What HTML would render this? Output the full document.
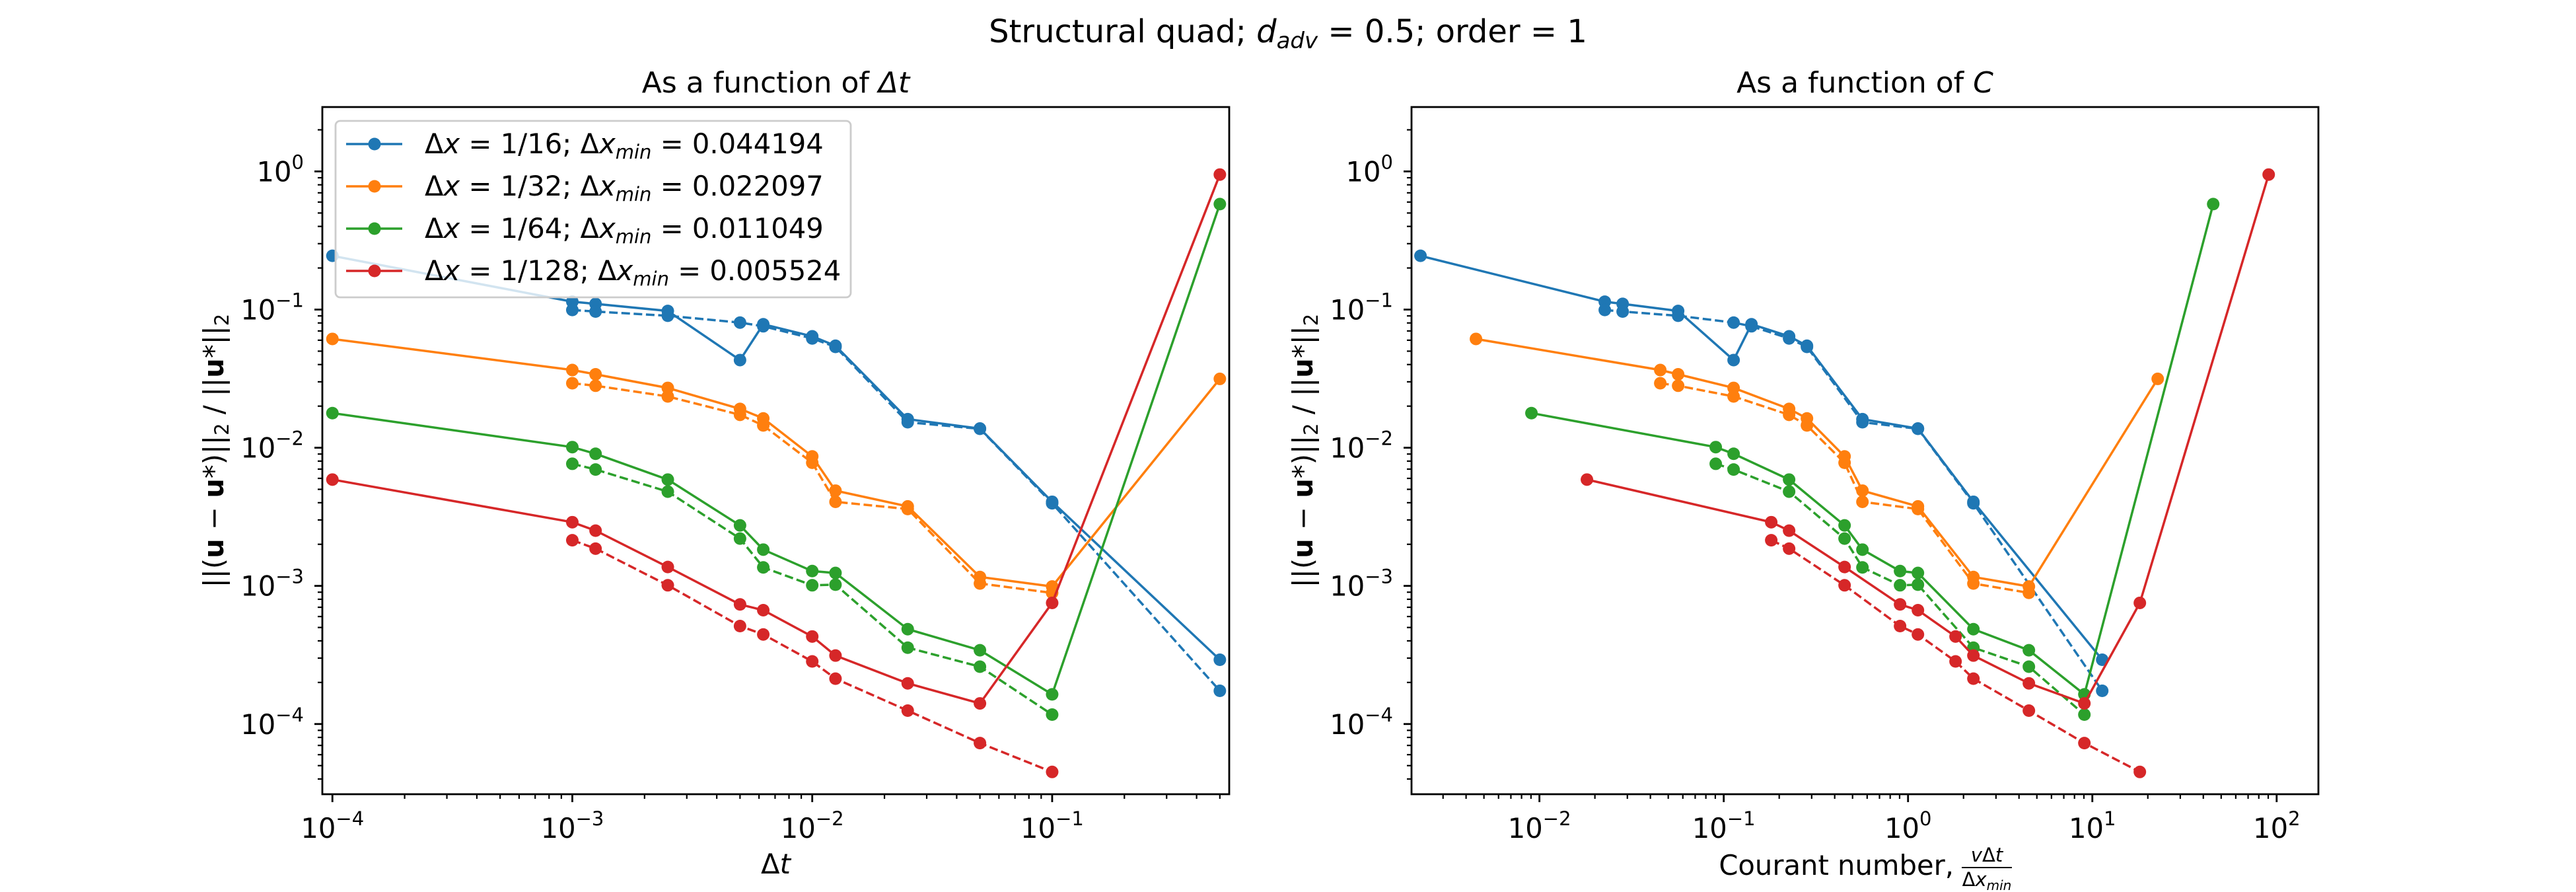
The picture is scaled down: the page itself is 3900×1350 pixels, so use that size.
<!DOCTYPE html>
<html><head><meta charset="utf-8">
<style>
html,body{margin:0;padding:0;background:#fff;}
svg{display:block;font-family:"DejaVu Sans","Liberation Sans",sans-serif;}
</style></head>
<body>
<svg id="fig" width="3900" height="1350" viewBox="0 0 3900 1350" xmlns="http://www.w3.org/2000/svg">
<rect x="0" y="0" width="3900" height="1350" fill="#fff"/>
<text x="1950" y="64" font-size="48" text-anchor="middle">Structural quad; <tspan font-style="italic">d</tspan><tspan font-style="italic" font-size="34" dy="9">adv</tspan><tspan dy="-9"> = 0.5; order = 1</tspan></text>
<g id="axL"></g>
<g id="axR"></g>
</svg>
<script>
const dt = [1e-4, 1e-3, 1.25e-3, 2.5e-3, 5e-3, 6.25e-3, 1e-2, 1.25e-2, 2.5e-2, 5e-2, 1e-1, 0.5];
const dxmin = [0.044194, 0.022097, 0.011049, 0.005524];
const dxLabels = ['1/16', '1/32', '1/64', '1/128'];
const dxminLabels = ['0.044194', '0.022097', '0.011049', '0.005524'];
const velocity = 1;
const solidBlue   = [0.245, 0.114, 0.110, 0.0977, 0.0431, 0.0783, 0.064, 0.0547, 0.0161, 0.01377, 0.00406, 0.000292];
const dashedBlue  = [null, 0.0993, 0.0968, 0.0902, 0.0805, 0.0757, 0.0618, 0.0537, 0.0153, 0.0137, 0.00396, 0.000174];
const solidOrange = [0.0613, 0.0365, 0.034, 0.0271, 0.0191, 0.0163, 0.00865, 0.00489, 0.00376, 0.00116, 0.00099, 0.0315];
const dashedOrange= [null, 0.0293, 0.0281, 0.0235, 0.0173, 0.0145, 0.00778, 0.00406, 0.0036, 0.00104, 0.00089, null];
const solidGreen  = [0.0178, 0.0101, 0.00904, 0.00588, 0.00274, 0.00183, 0.00128, 0.00124, 0.000486, 0.000342, 0.000164, 0.58];
const dashedGreen = [null, 0.00765, 0.00695, 0.00481, 0.0022, 0.00136, 0.00101, 0.00102, 0.000357, 0.00026, 0.000117, null];
const solidRed    = [0.00588, 0.00289, 0.00251, 0.00137, 0.000734, 0.000667, 0.00043, 0.000313, 0.000197, 0.000141, 0.000753, 0.949];
const dashedRed   = [null, 0.00214, 0.00186, 0.00101, 0.000512, 0.000445, 0.000284, 0.000213, 0.000125, 0.0000728, 0.000045, null];
const yTickExps = [0, -1, -2, -3, -4];
const xTickExpsL = [-4, -3, -2, -1];
const xTickExpsR = [-2, -1, 0, 1, 2];

const colors = ['#1f77b4', '#ff7f0e', '#2ca02c', '#d62728'];
const solids = [solidBlue, solidOrange, solidGreen, solidRed];
const dasheds = [dashedBlue, dashedOrange, dashedGreen, dashedRed];
const NS = 'http://www.w3.org/2000/svg';
function mk(tag, attrs, parent) {
  const e = document.createElementNS(NS, tag);
  for (const k in attrs) e.setAttribute(k, attrs[k]);
  if (parent) parent.appendChild(e);
  return e;
}
const axL = {g: document.getElementById('axL'), x0: 488, x1: 1861, y0: 162, y1: 1202, lxmin: -4.042, lxmax: -0.262, lymin: -4.508, lymax: 0.466};
const axR = {g: document.getElementById('axR'), x0: 2137, x1: 3510, y0: 162, y1: 1202, lxmin: -2.694, lxmax: 2.2265, lymin: -4.508, lymax: 0.466};
function sx(ax, v) { return ax.x0 + (Math.log10(v) - ax.lxmin) / (ax.lxmax - ax.lxmin) * (ax.x1 - ax.x0); }
function sy(ax, v) { return ax.y1 - (Math.log10(v) - ax.lymin) / (ax.lymax - ax.lymin) * (ax.y1 - ax.y0); }

function drawAxes(ax, xExps, useC, title, titleItalic) {
  const g = ax.g;
  const cid = 'clip' + ax.x0;
  const cp = mk('clipPath', {id: cid}, g);
  mk('rect', {x: ax.x0, y: ax.y0, width: ax.x1 - ax.x0, height: ax.y1 - ax.y0}, cp);
  const plot = mk('g', {'clip-path': 'url(#' + cid + ')'}, g);
  for (let s = 0; s < 4; s++) {
    const xs = dt.map(d => useC ? velocity * d / dxmin[s] : d);
    [[solids[s], null, 'solid'], [dasheds[s], '13 5.6', 'dashed']].forEach(([arr, dash, kind]) => {
      const pts = [];
      arr.forEach((v, i) => { if (v != null) pts.push([sx(ax, xs[i]), sy(ax, v)]); });
      const sg = mk('g', {}, plot);
      
      
      const pl = mk('polyline', {points: pts.map(p => p[0].toFixed(1) + ',' + p[1].toFixed(1)).join(' '), fill: 'none', stroke: colors[s], 'stroke-width': 3.5}, sg);
      if (dash) pl.setAttribute('stroke-dasharray', dash);
      pts.forEach(p => {
        const c = mk('circle', {cx: p[0], cy: p[1], r: 9.5, fill: colors[s]}, sg);
        
        
      });
    });
  }
  const sp = mk('rect', {x: ax.x0, y: ax.y0, width: ax.x1 - ax.x0, height: ax.y1 - ax.y0, fill: 'none', stroke: '#000', 'stroke-width': 2.8}, g);
  
  
  for (let e = -5; e <= 1; e++) {
    for (let m = 1; m <= 9; m++) {
      const v = m * Math.pow(10, e);
      const y = sy(ax, v);
      if (y < ax.y0 - 0.5 || y > ax.y1 + 0.5) continue;
      const len = m === 1 ? 12 : 7;
      mk('line', {x1: ax.x0, x2: ax.x0 - len, y1: y, y2: y, stroke: '#000', 'stroke-width': m === 1 ? 2.8 : 2.2}, g);
    }
  }
  yTickExps.forEach(e => {
    const y = sy(ax, Math.pow(10, e));
    const t = mk('text', {x: ax.x0 - 28, y: y + 15, 'font-size': 41.7, 'text-anchor': 'end'}, g);
    
    
    t.innerHTML = '10<tspan font-size="29" dy="-19">' + (e === 0 ? '0' : '\u2212' + (-e)) + '</tspan>';
  });
  for (let e = -6; e <= 3; e++) {
    for (let m = 1; m <= 9; m++) {
      const v = m * Math.pow(10, e);
      const x = sx(ax, v);
      if (x < ax.x0 - 0.5 || x > ax.x1 + 0.5) continue;
      const len = m === 1 ? 12 : 7;
      mk('line', {x1: x, x2: x, y1: ax.y1, y2: ax.y1 + len, stroke: '#000', 'stroke-width': m === 1 ? 2.8 : 2.2}, g);
    }
  }
  xExps.forEach(e => {
    const x = sx(ax, Math.pow(10, e));
    const t = mk('text', {x: x, y: ax.y1 + 66, 'font-size': 41.7, 'text-anchor': 'middle'}, g);
    
    
    t.innerHTML = '10<tspan font-size="29" dy="-19">' + (e === 0 ? '0' : (e < 0 ? '\u2212' + (-e) : e)) + '</tspan>';
  });
  const cx = (ax.x0 + ax.x1) / 2;
  const tt = mk('text', {x: cx, y: 140, 'font-size': 44, 'text-anchor': 'middle'}, g);
  
  
  tt.innerHTML = title + '<tspan font-style="italic">' + titleItalic + '</tspan>';
  const yl = mk('text', {x: 0, y: 0, 'font-size': 41.7, 'text-anchor': 'middle', transform: 'translate(' + (ax.x0 - 150) + ',' + ((ax.y0 + ax.y1) / 2) + ') rotate(-90)'}, g);
  
  
  yl.innerHTML = '||(<tspan font-weight="bold">u</tspan> \u2212 <tspan font-weight="bold">u</tspan>*)||<tspan font-size="29" dy="8">2</tspan><tspan dy="-8"> / ||</tspan><tspan font-weight="bold">u</tspan>*||<tspan font-size="29" dy="8">2</tspan>';
}

drawAxes(axL, xTickExpsL, false, 'As a function of ', '\u0394t');
drawAxes(axR, xTickExpsR, true, 'As a function of ', 'C');

(function () {
  const t = mk('text', {x: (axL.x0 + axL.x1) / 2, y: 1322, 'font-size': 41.7, 'text-anchor': 'middle'}, axL.g);
  
  
  t.innerHTML = '\u0394<tspan font-style="italic">t</tspan>';
  const t2 = mk('text', {x: 2958, y: 1324, 'font-size': 41.7, 'text-anchor': 'end'}, axR.g);
  
  
  t2.textContent = 'Courant number, ';
  const fr = mk('g', {}, axR.g);
  
  
  const n = mk('text', {x: 3008, y: 1304, 'font-size': 29, 'text-anchor': 'middle'}, fr);
  n.innerHTML = '<tspan font-style="italic">v</tspan>\u0394<tspan font-style="italic">t</tspan>';
  mk('line', {x1: 2970, x2: 3046, y1: 1313, y2: 1313, stroke: '#000', 'stroke-width': 2}, fr);
  const d = mk('text', {x: 3008, y: 1341, 'font-size': 29, 'text-anchor': 'middle'}, fr);
  d.innerHTML = '\u0394<tspan font-style="italic">x</tspan><tspan font-style="italic" font-size="20" dy="6">min</tspan>';
})();

(function () {
  const lg = mk('g', {}, axL.g);
  
  
  mk('rect', {x: 508, y: 183, width: 780, height: 267, rx: 7, fill: '#fff', 'fill-opacity': 0.8, stroke: '#cccccc', 'stroke-width': 2.8}, lg);
  const rowY = [218, 282, 346, 410];
  for (let s = 0; s < 4; s++) {
    const e = mk('g', {}, lg);
    
    
    mk('line', {x1: 524, x2: 609, y1: rowY[s], y2: rowY[s], stroke: colors[s], 'stroke-width': 3.5}, e);
    mk('circle', {cx: 567, cy: rowY[s], r: 9.5, fill: colors[s]}, e);
    const t = mk('text', {x: 643, y: rowY[s] + 14, 'font-size': 41.7}, e);
    t.innerHTML = '\u0394<tspan font-style="italic">x</tspan> = ' + dxLabels[s] + '; \u0394<tspan font-style="italic">x</tspan><tspan font-style="italic" font-size="29" dy="8">min</tspan><tspan dy="-8"> = ' + dxminLabels[s] + '</tspan>';
  }
})();
</script>
</body></html>
